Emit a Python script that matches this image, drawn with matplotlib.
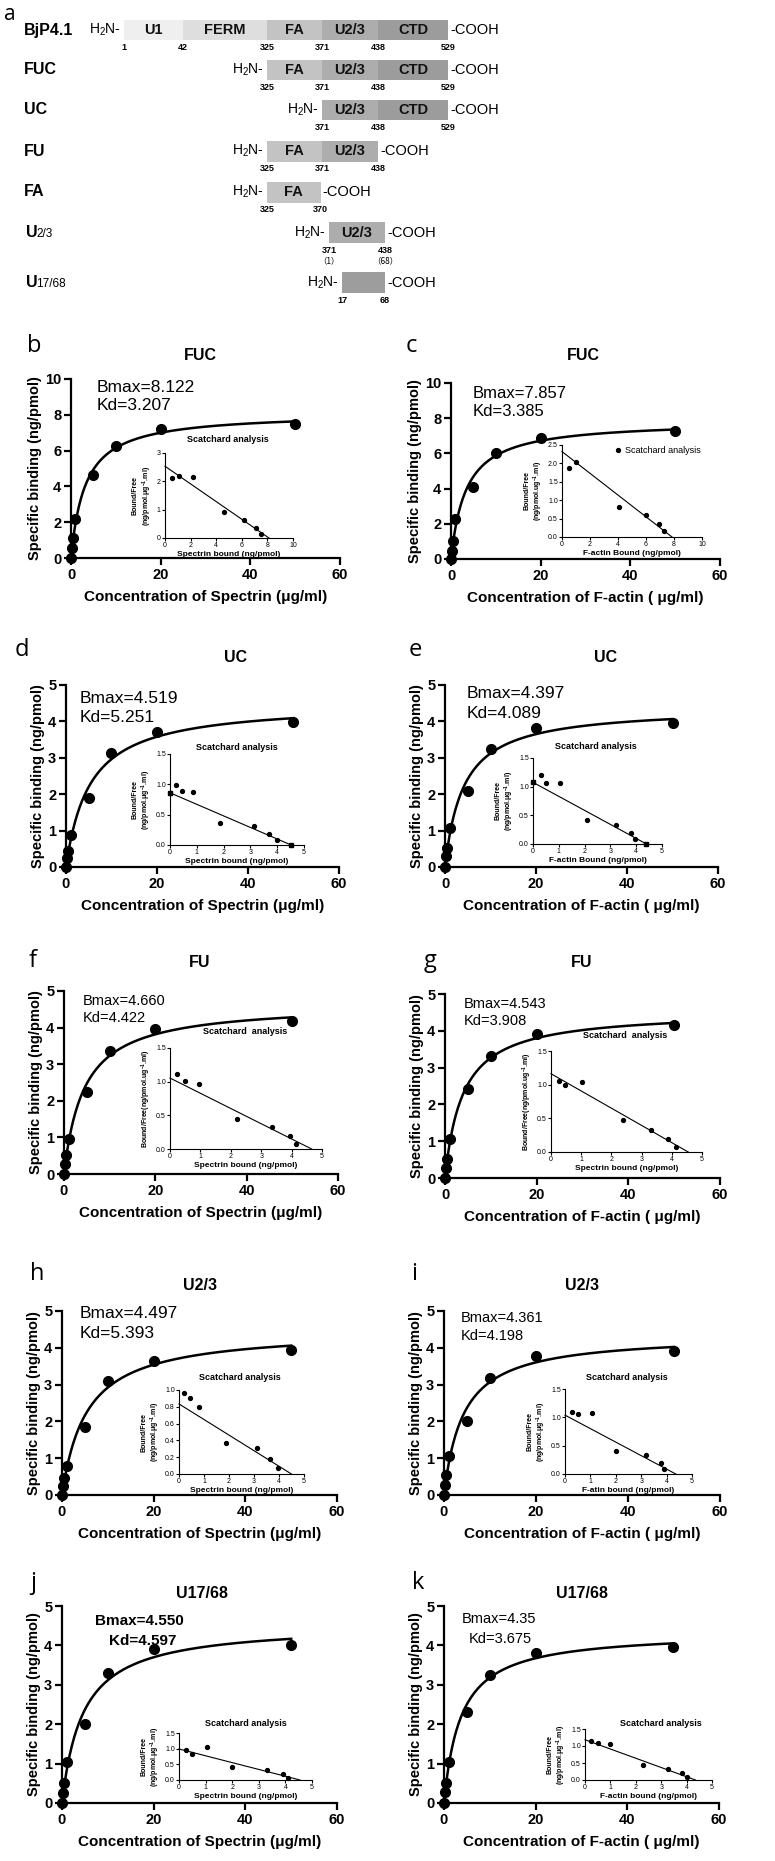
import numpy as np
import matplotlib
matplotlib.use("Agg")
import matplotlib.pyplot as plt
from matplotlib.patches import Rectangle

plt.rcParams['font.family'] = ['Liberation Sans', 'DejaVu Sans']
plt.rcParams['mathtext.fontset'] = 'custom'
plt.rcParams['mathtext.rm'] = 'Liberation Sans'
plt.rcParams['mathtext.bf'] = 'Liberation Sans:bold'
plt.rcParams['mathtext.default'] = 'bf'

W, H = 775, 1861

# ---------------- panel a data ----------------
domain_names = ["U1", "FERM", "FA", "U2/3", "CTD"]
domain_bounds = [1, 42, 325, 371, 438, 529]
domain_colors = ["#efefef", "#dedede", "#c3c3c3", "#adadad", "#9c9c9c"]
construct_names = ["BjP4.1", "FUC", "UC", "FU", "FA", "U2/3", "U17/68"]
construct_start = [1, 325, 371, 325, 325, 371, 387]
construct_end = [529, 529, 529, 438, 370, 438, 438]
construct_numbers = [["1", "42", "325", "371", "438", "529"],
                     ["325", "371", "438", "529"],
                     ["371", "438", "529"],
                     ["325", "371", "438"],
                     ["325", "370"],
                     ["371", "438"],
                     ["17", "68"]]
u23_local = ["（1）", "（68）"]

# ---------------- binding data ----------------
conc = [0, 0.25, 0.5, 1, 5, 10, 20, 50]
bind_b = [0, 0.55, 1.1, 2.2, 4.65, 6.25, 7.2, 7.5]
bind_c = [0, 0.48, 1.0, 2.3, 4.1, 6.0, 6.9, 7.3]
bind_d = [0, 0.25, 0.45, 0.87, 1.89, 3.14, 3.72, 3.98]
bind_e = [0, 0.30, 0.53, 1.06, 2.09, 3.23, 3.83, 3.96]
bind_f = [0, 0.27, 0.51, 0.96, 2.24, 3.37, 3.96, 4.18]
bind_g = [0, 0.27, 0.51, 1.05, 2.42, 3.31, 3.91, 4.16]
bind_h = [0, 0.24, 0.45, 0.80, 1.86, 3.11, 3.63, 3.95]
bind_i = [0, 0.28, 0.53, 1.07, 2.00, 3.19, 3.78, 3.90]
bind_j = [0, 0.25, 0.50, 1.05, 2.00, 3.30, 3.90, 4.00]
bind_k = [0, 0.28, 0.52, 1.05, 2.30, 3.25, 3.80, 3.95]

bmax = [8.122, 7.857, 4.519, 4.397, 4.660, 4.543, 4.497, 4.361, 4.550, 4.35]
kd = [3.207, 3.385, 5.251, 4.089, 4.422, 3.908, 5.393, 4.198, 4.597, 3.675]
bmax_text = ["Bmax=8.122", "Bmax=7.857", "Bmax=4.519", "Bmax=4.397", "Bmax=4.660",
             "Bmax=4.543", "Bmax=4.497", "Bmax=4.361", "Bmax=4.550", "Bmax=4.35"]
kd_text = ["Kd=3.207", "Kd=3.385", "Kd=5.251", "Kd=4.089", "Kd=4.422",
           "Kd=3.908", "Kd=5.393", "Kd=4.198", "Kd=4.597", "Kd=3.675"]

# Scatchard points (bound, bound/free)
sb_b = [0.55, 1.1, 2.2, 4.6, 6.2, 7.1, 7.5];    sf_b = [2.13, 2.18, 2.16, 0.93, 0.62, 0.35, 0.15]
sb_c = [0.5, 1.0, 4.1, 6.0, 6.9, 7.3];          sf_c = [1.88, 2.03, 0.82, 0.60, 0.35, 0.15]
sb_d = [0.22, 0.44, 0.85, 1.87, 3.13, 3.71, 3.98]; sf_d = [0.99, 0.89, 0.87, 0.37, 0.31, 0.18, 0.08]
sb_e = [0.30, 0.52, 1.06, 2.08, 3.20, 3.79, 3.94]; sf_e = [1.21, 1.07, 1.07, 0.42, 0.33, 0.20, 0.08]
sb_f = [0.24, 0.49, 0.96, 2.20, 3.35, 3.96, 4.15]; sf_f = [1.12, 1.01, 0.97, 0.44, 0.33, 0.20, 0.08]
sb_g = [0.25, 0.47, 1.02, 2.40, 3.31, 3.89, 4.15]; sf_g = [1.06, 1.00, 1.04, 0.48, 0.33, 0.19, 0.08]
sb_h = [0.21, 0.43, 0.79, 1.87, 3.11, 3.65, 3.96]; sf_h = [0.96, 0.90, 0.80, 0.37, 0.31, 0.18, 0.075]
sb_i = [0.26, 0.53, 1.05, 1.99, 3.20, 3.76, 3.91]; sf_i = [1.10, 1.06, 1.07, 0.40, 0.33, 0.20, 0.09]
sb_j = [0.25, 0.50, 1.05, 2.00, 3.30, 3.90, 4.10]; sf_j = [0.97, 0.82, 1.05, 0.42, 0.33, 0.20, 0.07]
sb_k = [0.25, 0.50, 1.00, 2.30, 3.25, 3.80, 4.00]; sf_k = [1.15, 1.10, 1.05, 0.45, 0.33, 0.20, 0.08]

panel_letters = ["b", "c", "d", "e", "f", "g", "h", "i", "j", "k"]
panel_titles = ["FUC", "FUC", "UC", "UC", "FU", "FU", "U2/3", "U2/3", "U17/68", "U17/68"]
main_xlabels = ["Concentration of Spectrin (μg/ml)", "Concentration of F-actin ( μg/ml)"] * 5
ins_xlabels = ["Spectrin bound (ng/pmol)", "F-actin Bound (ng/pmol)",
               "Spectrin bound (ng/pmol)", "F-actin Bound (ng/pmol)",
               "Spectrin bound (ng/pmol)", "Spectrin bound (ng/pmol)",
               "Spectrin bound (ng/pmol)", "F-atin bound (ng/pmol)",
               "Spectrin bound (ng/pmol)", "F-actin bound (ng/pmol)"]
yl2 = "Bound/Free\n(ng/pmol.μg$^{-1}$.ml)"
ins_ylabels = [yl2, "Bound/Free\n(ng/pmol.ug$^{-1}$.ml)", yl2, yl2,
               "Bound/Free(ng/pmol.ug$^{-1}$.ml)", "Bound/Free(ng/pmol.ug$^{-1}$.ml)",
               yl2, yl2, yl2, yl2]
ins_titles = ["Scatchard analysis", None, "Scatchard analysis", "Scatchard analysis",
              "Scatchard  analysis", "Scatchard  analysis", "Scatchard analysis",
              "Scatchard analysis", "Scatchard analysis", "Scatchard analysis"]

binds = [bind_b, bind_c, bind_d, bind_e, bind_f, bind_g, bind_h, bind_i, bind_j, bind_k]
sbs = [sb_b, sb_c, sb_d, sb_e, sb_f, sb_g, sb_h, sb_i, sb_j, sb_k]
sfs = [sf_b, sf_c, sf_d, sf_e, sf_f, sf_g, sf_h, sf_i, sf_j, sf_k]

# ---------------- layout (pixels) ----------------
main_box = [(71, 379, 340, 558), (451, 383, 720, 559),
            (66, 685, 339, 867), (445, 685, 718, 867),
            (64, 991, 338, 1174), (445, 994, 720, 1178),
            (62, 1311, 337, 1495), (444, 1311, 720, 1495),
            (62, 1606, 337, 1803), (444, 1606, 719, 1803)]
ins_box = [(165, 453, 293, 538), (562, 445, 702, 537),
           (170, 754, 304, 845), (533, 758, 662, 844),
           (170, 1048, 322, 1149), (551, 1051, 702, 1152),
           (179, 1390, 304, 1474), (565, 1389, 692, 1474),
           (179, 1733, 312, 1780), (585, 1729, 712, 1780)]
main_ymax = [10, 10, 5, 5, 5, 5, 5, 5, 5, 5]
main_ystep = [2, 2, 1, 1, 1, 1, 1, 1, 1, 1]
ins_xmax = [10, 10, 5, 5, 5, 5, 5, 5, 5, 5]
ins_xstep = [2, 2, 1, 1, 1, 1, 1, 1, 1, 1]
ins_ymax = [3, 2.5, 1.5, 1.5, 1.5, 1.5, 1.0, 1.5, 1.5, 1.5]
ins_ystep = [1, 0.5, 0.5, 0.5, 0.5, 0.5, 0.2, 0.5, 0.5, 0.5]
ins_yfmt = ["%d", "%.1f", "%.1f", "%.1f", "%.1f", "%.1f", "%.1f", "%.1f", "%.1f", "%.1f"]
end_marks = [False, False, True, True, False, False, False, False, False, False]
ins_title_pos = [(228, 440), None, (237, 748), (596, 746), (245, 1032), (625, 1036),
                 (240, 1378), (627, 1377), (246, 1724), (661, 1724)]
text_pos = [(97, 387, 97, 406), (473, 393, 473, 412), (80, 699, 80, 718), (467, 694, 467, 713),
            (83, 1001, 83, 1018), (464, 1004, 464, 1021), (80, 1314, 80, 1333),
            (461, 1318, 461, 1336), (95, 1621, 109, 1641), (462, 1619, 469, 1639)]
text_size = [12.5, 12, 12.5, 12.5, 10.5, 10.5, 12.5, 10.5, 11, 10.5]
text_weight = ["normal"] * 8 + ["bold", "normal"]
title_pos = [(200, 355), (583, 355), (236, 658), (606, 658), (200, 963), (582, 963),
             (200, 1286), (582, 1286), (202, 1593), (582, 1593)]
letter_pos = [(34, 346), (411, 346), (22, 650), (415, 650), (33, 961), (430, 961),
              (37, 1274), (414, 1274), (33, 1583), (418, 1583)]

fig = plt.figure(figsize=(W / 100, H / 100), dpi=100)


def px_axes(l, t, r, b):
    return fig.add_axes([l / W, 1 - b / H, (r - l) / W, (b - t) / H])


def ftext(x, y, s, **kw):
    fig.text(x / W, 1 - y / H, s, **kw)


# ---------------- panel a ----------------
ax0 = fig.add_axes([0, 1 - 320 / H, 1, 320 / H])
ax0.set_xlim(0, W)
ax0.set_ylim(320, 0)
ax0.axis("off")
anchor_px = [124, 183, 267, 322, 378, 448]
row_y = [30, 70, 110, 151, 192, 233, 283]
row_shift = [0, 0, 0, 0, 0, 7, 7]
bar_h = 21
ftext(10, 14, "a", fontsize=15, ha="center", va="center", fontfamily="Open Sans")
for r, name in enumerate(construct_names):
    y = row_y[r]
    s, e = construct_start[r], construct_end[r]
    sh = row_shift[r]
    xs = np.interp(s, domain_bounds, anchor_px) + sh
    xe = np.interp(e, domain_bounds, anchor_px) + sh
    if name == "U17/68":
        ax0.add_patch(Rectangle((xs, y - bar_h / 2), xe - xs, bar_h, color="#9d9d9d", lw=0))
    else:
        for d in range(5):
            a0 = max(s, domain_bounds[d]); a1 = min(e, domain_bounds[d + 1])
            if a1 - a0 <= 1:
                continue
            x0 = np.interp(a0, domain_bounds, anchor_px) + sh
            x1 = np.interp(a1, domain_bounds, anchor_px) + sh
            ax0.add_patch(Rectangle((x0, y - bar_h / 2), x1 - x0, bar_h,
                                    color=domain_colors[d], lw=0))
            ax0.text((x0 + x1) / 2, y, domain_names[d], ha="center", va="center",
                     fontsize=10.5, fontweight="bold", color="#111111")
    ax0.text(xs - 3, y, "H$_\\mathregular{2}$N-", ha="right", va="center", fontsize=10)
    ax0.text(xe + 2, y, "-COOH", ha="left", va="center", fontsize=10.5)
    # residue numbers
    nums = construct_numbers[r]
    if name in ("U2/3", "U17/68"):
        npos = [xs, xe]
    else:
        npos = [np.interp(int(n), domain_bounds, anchor_px) + sh for n in nums]
    for n, xp in zip(nums, npos):
        ax0.text(xp, y + bar_h / 2 + 7, n, ha="center", va="center",
                 fontsize=6.5, fontweight="bold")
    if name == "U2/3":
        for n, xp in zip(u23_local, npos):
            ax0.text(xp, y + bar_h / 2 + 17, n, ha="center", va="center", fontsize=6,
                     fontfamily=["Noto Sans CJK SC", "DejaVu Sans"])
    # row label
    if name.startswith("U") and len(name) > 2:
        ax0.text(26, y, "U", ha="left", va="center", fontsize=11.5, fontweight="bold")
        ax0.text(36, y + 1, name[1:], ha="left", va="center", fontsize=8.5)
    else:
        ax0.text(24, y, name, ha="left", va="center", fontsize=11.5, fontweight="bold")

# ---------------- binding panels ----------------
for p in range(10):
    l, t, r_, b = main_box[p]
    ax = px_axes(l, t, r_, b)
    xs = np.linspace(0, 50, 300)
    ax.plot(xs, bmax[p] * xs / (kd[p] + xs), color="black", lw=1.8, zorder=2)
    ax.plot(conc, binds[p], "o", color="black", ms=7, clip_on=False, zorder=3)
    ax.set_xlim(0, 60)
    ax.set_ylim(0, main_ymax[p])
    ax.set_xticks([0, 20, 40, 60])
    ax.set_yticks(np.arange(0, main_ymax[p] + 0.01, main_ystep[p]))
    ax.set_yticklabels([str(int(v)) for v in np.arange(0, main_ymax[p] + 0.01, main_ystep[p])])
    for sp in ["top", "right"]:
        ax.spines[sp].set_visible(False)
    for sp in ["left", "bottom"]:
        ax.spines[sp].set_linewidth(1.6)
    ax.tick_params(direction="out", length=5, width=1.6, labelsize=10.5, pad=2)
    for lb in ax.get_xticklabels() + ax.get_yticklabels():
        lb.set_fontweight("bold")
    ax.set_ylabel("Specific binding (ng/pmol)", fontsize=10.5, fontweight="bold", labelpad=2)
    ax.set_xlabel(main_xlabels[p], fontsize=11, fontweight="bold", labelpad=6)
    ax.patch.set_alpha(0)

    tx1, ty1, tx2, ty2 = text_pos[p]
    ftext(tx1, ty1, bmax_text[p], fontsize=text_size[p], fontweight=text_weight[p], va="center")
    ftext(tx2, ty2, kd_text[p], fontsize=text_size[p], fontweight=text_weight[p], va="center")
    ftext(title_pos[p][0], title_pos[p][1], panel_titles[p], fontsize=11.5, fontweight="bold",
          ha="center", va="center")
    ftext(letter_pos[p][0], letter_pos[p][1], panel_letters[p], fontsize=17, ha="center",
          va="center", fontfamily="Open Sans")

    # inset
    l, t, r_, b = ins_box[p]
    ai = px_axes(l, t, r_, b)
    bx = np.array([0, bmax[p]])
    ai.plot(bx, (bmax[p] - bx) / kd[p], color="black", lw=0.8, clip_on=False)
    if end_marks[p]:
        ai.plot(bx, (bmax[p] - bx) / kd[p], "s", color="black", ms=2.5, clip_on=False)
    ai.plot(sbs[p], sfs[p], "o", color="black", ms=2.8, clip_on=False,
            label="Scatchard analysis")
    ai.set_xlim(0, ins_xmax[p])
    ai.set_ylim(0, ins_ymax[p])
    ai.set_xticks(np.arange(0, ins_xmax[p] + 0.01, ins_xstep[p]))
    yt = np.arange(0, ins_ymax[p] + 0.001, ins_ystep[p])
    ai.set_yticks(yt)
    ai.set_yticklabels([ins_yfmt[p] % v for v in yt])
    for sp in ["top", "right"]:
        ai.spines[sp].set_visible(False)
    for sp in ["left", "bottom"]:
        ai.spines[sp].set_linewidth(0.8)
    ai.tick_params(direction="out", length=2, width=0.8, labelsize=5, pad=1)
    ai.set_xlabel(ins_xlabels[p], fontsize=6, fontweight="bold", labelpad=1)
    ai.set_ylabel(ins_ylabels[p], fontsize=5, fontweight="bold", labelpad=2)
    ai.patch.set_alpha(0)
    if ins_titles[p] is None:
        ai.legend(loc="upper right", bbox_to_anchor=(1.05, 1.08), frameon=False, fontsize=6.5,
                  handletextpad=0.3, markerscale=1.0, handlelength=1)
    else:
        ftext(ins_title_pos[p][0], ins_title_pos[p][1], ins_titles[p], fontsize=6.5,
              fontweight="bold", ha="center", va="center")

fig.savefig("out.png", dpi=100, facecolor="white")
